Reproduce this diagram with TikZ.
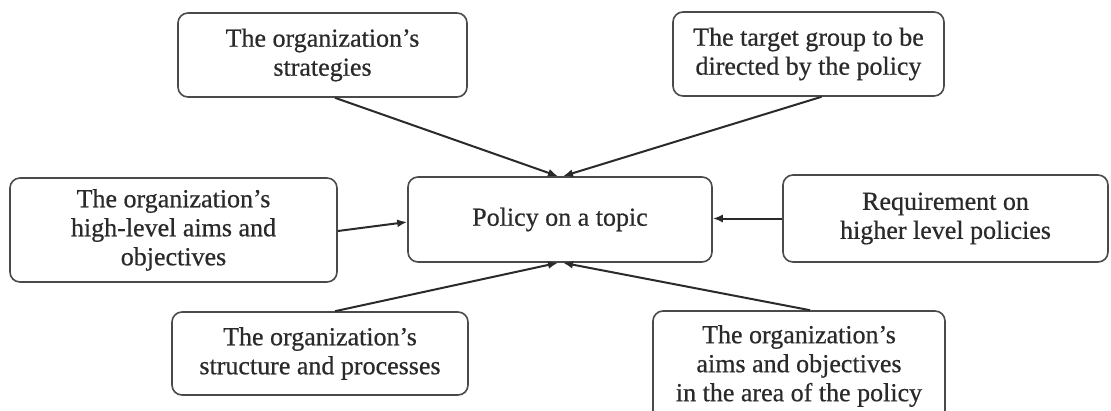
\documentclass[tikz,border=0pt]{standalone}
\usepackage{fontspec}
\setmainfont{Liberation Serif}[UprightFeatures={FakeBold=0.6}]
\usetikzlibrary{arrows.meta}
\definecolor{ink}{HTML}{2A2A2A}
\definecolor{boxline}{HTML}{4A4A4A}
\tikzset{
  box/.style={draw=boxline, line width=1.6pt, rounded corners=10pt, align=center,
    inner sep=0pt, text=ink, font=\fontsize{26}{29}\selectfont},
  conn/.style={draw=ink, line width=2pt, -{Latex[length=10pt,width=8pt]}}
}
\begin{document}
\begin{tikzpicture}[x=1pt,y=-1pt]
\useasboundingbox (0,0) rectangle (1111,410);
\node[box, minimum width=289pt, minimum height=84pt] (strat) at (322.5,55) {The organization's\\strategies};
\node[box, minimum width=271pt, minimum height=84pt] (target) at (808.5,54) {The target group to be\\directed by the policy};
\node[box, minimum width=327pt, minimum height=104pt] (high) at (173.5,230) {The organization's\\high-level aims and\\objectives};
\node[box, minimum width=304pt, minimum height=85pt] (policy) at (560,219.5) {Policy on a topic};
\node[box, minimum width=325pt, minimum height=87pt] (req) at (945.5,218.5) {Requirement on\\higher level policies};
\node[box, minimum width=296pt, minimum height=83pt] (struct) at (320,353.5) {The organization's\\structure and processes};
\node[box, minimum width=292pt, minimum height=110pt] (aims) at (799,366) {The organization's\\aims and objectives\\in the area of the policy};
\draw[conn] ([xshift=12.5pt]strat.south) -- ([xshift=-2pt]policy.north);
\draw[conn] ([xshift=13pt]target.south) -- ([xshift=3pt]policy.north);
\draw[conn] ([yshift=-1pt]high.east) -- ([yshift=-2.5pt]policy.west);
\draw[conn] (req.west) -- (policy.east |- req.west);
\draw[conn] ([xshift=15pt]struct.north) -- ([xshift=-2pt]policy.south);
\draw[conn] ([xshift=11pt]aims.north) -- ([xshift=3pt]policy.south);
\end{tikzpicture}
\end{document}
